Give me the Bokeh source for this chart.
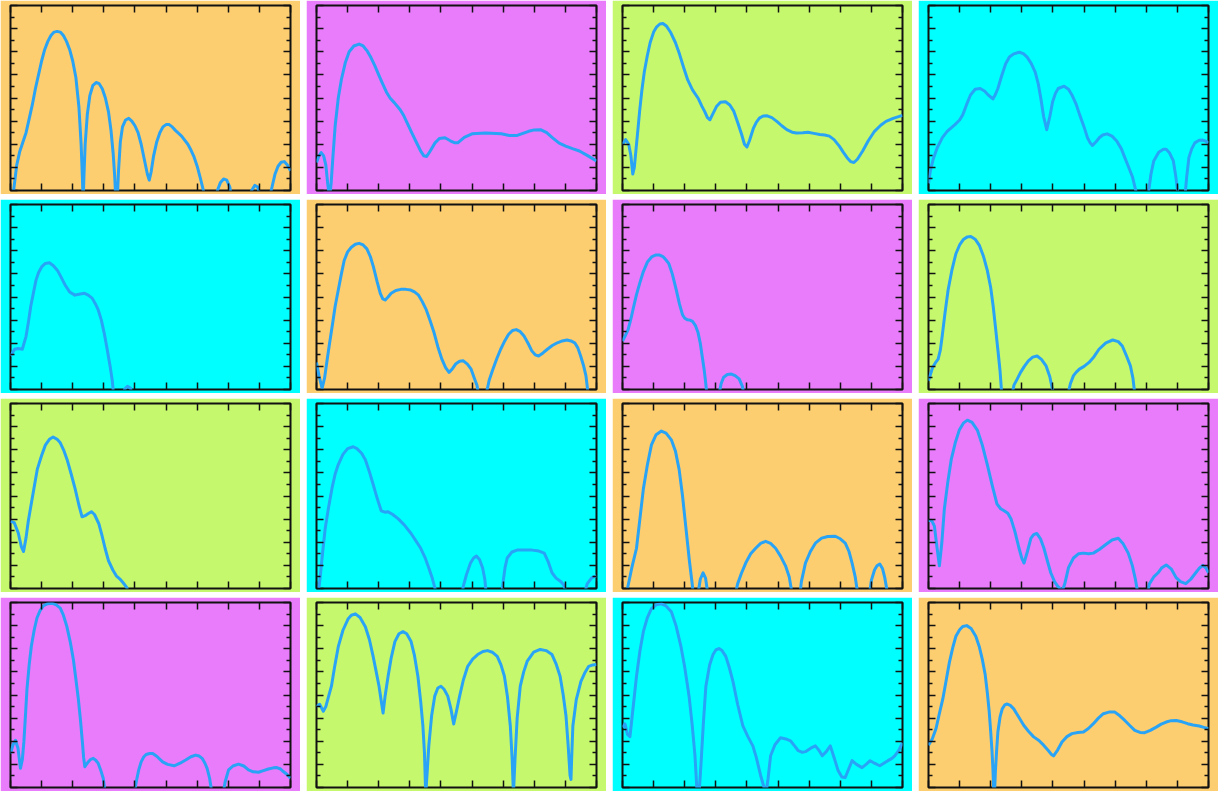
from bokeh.plotting import figure
from bokeh.layouts import gridplot
from bokeh.models import LinearAxis, FixedTicker
from bokeh.embed import file_html
from bokeh.resources import INLINE

# ---- panel colours (row by row) ----
ORANGE = "#FDCE70"
MAGENTA = "#E87CFB"
GREEN = "#C6F86E"
CYAN = "#00FFFF"
LINE = "#29A3F5"
INK = "#111111"

panel_colors = [ORANGE, MAGENTA, GREEN, CYAN,
                CYAN, ORANGE, MAGENTA, GREEN,
                GREEN, CYAN, ORANGE, MAGENTA,
                MAGENTA, GREEN, CYAN, ORANGE]

x_ticks = [0, 1, 2, 3, 4, 5, 6, 7, 8, 9]
y_ticks = [0, 1, 2, 3, 4, 5, 6, 7, 8]
y_minor = [0.5, 1.5, 2.5, 3.5, 4.5, 5.5, 6.5, 7.5]

# ---- curves: (x, y) pairs ----
P1 = [(0.05,-0.3),(0.1,0.0),(0.2,1.1),(0.3,1.7),(0.4,2.1),(0.5,2.5),(0.6,3.1),(0.7,3.7),(0.8,4.4),(0.9,5.0),(1.0,5.6),(1.1,6.1),(1.2,6.45),(1.3,6.7),(1.4,6.85),(1.5,6.88),(1.6,6.85),(1.7,6.7),(1.8,6.45),(1.9,6.1),(2.0,5.6),(2.1,4.9),(2.2,3.6),(2.27,2.0),(2.31,0.6),(2.335,-0.5),(2.36,0.6),(2.4,2.0),(2.47,3.3),(2.55,4.1),(2.65,4.55),(2.75,4.67),(2.85,4.62),(2.95,4.4),(3.05,4.0),(3.15,3.4),(3.23,2.6),(3.3,1.6),(3.35,0.6),(3.39,-0.5),(3.43,-0.5),(3.47,0.8),(3.53,2.1),(3.6,2.75),(3.7,3.05),(3.8,3.12),(3.9,3.0),(4.0,2.8),(4.1,2.5),(4.2,2.0),(4.3,1.35),(4.4,0.7),(4.46,0.45),(4.52,0.8),(4.6,1.5),(4.7,2.1),(4.8,2.5),(4.9,2.75),(5.0,2.85),(5.1,2.85),(5.2,2.75),(5.3,2.6),(5.5,2.35),(5.7,2.0),(5.8,1.75),(5.9,1.45),(6.0,1.05),(6.1,0.55),(6.2,0.0),(6.25,-0.5),(6.6,-0.5),(6.65,0.0),(6.75,0.35),(6.85,0.5),(6.95,0.45),(7.05,0.15),(7.1,-0.3),(7.7,-0.3),(7.75,0.0),(7.85,0.22),(7.95,0.15),(8.02,-0.3),(8.33,-0.3),(8.38,0.0),(8.5,0.7),(8.6,1.05),(8.7,1.22),(8.8,1.25),(8.9,1.1),(9.0,0.85)]
P2 = [(0.0,1.21),(0.08,1.5),(0.15,1.64),(0.23,1.5),(0.3,1.1),(0.36,0.3),(0.42,-0.3),(0.47,0.3),(0.52,1.3),(0.6,2.8),(0.7,4.0),(0.8,4.8),(0.93,5.55),(1.05,6.0),(1.2,6.25),(1.37,6.33),(1.5,6.25),(1.62,6.05),(1.75,5.75),(1.87,5.41),(2.0,5.0),(2.12,4.63),(2.25,4.25),(2.37,3.99),(2.5,3.8),(2.69,3.49),(2.8,3.25),(2.94,2.85),(3.06,2.5),(3.19,2.14),(3.35,1.7),(3.45,1.5),(3.54,1.47),(3.65,1.7),(3.81,2.06),(3.95,2.25),(4.13,2.28),(4.3,2.15),(4.45,2.06),(4.54,2.06),(4.75,2.3),(5.0,2.45),(5.44,2.49),(5.94,2.45),(6.2,2.38),(6.45,2.38),(6.82,2.56),(7.0,2.62),(7.2,2.63),(7.4,2.5),(7.57,2.3),(7.8,2.05),(8.01,1.92),(8.25,1.8),(8.45,1.71),(8.7,1.52),(9.0,1.28)]
P3 = [(0.0,1.99),(0.1,2.2),(0.2,2.0),(0.27,1.5),(0.33,0.71),(0.38,1.0),(0.43,1.71),(0.5,2.7),(0.55,3.42),(0.62,4.3),(0.7,5.12),(0.8,5.85),(0.89,6.4),(1.0,6.85),(1.1,7.08),(1.2,7.2),(1.3,7.22),(1.42,7.1),(1.55,6.83),(1.7,6.4),(1.83,5.91),(1.97,5.3),(2.1,4.77),(2.25,4.35),(2.43,3.99),(2.55,3.65),(2.64,3.42),(2.73,3.15),(2.81,3.06),(2.9,3.3),(3.02,3.63),(3.15,3.82),(3.31,3.84),(3.45,3.7),(3.58,3.42),(3.7,2.95),(3.83,2.42),(3.92,2.0),(4.0,1.88),(4.08,2.15),(4.21,2.7),(4.3,2.95),(4.4,3.13),(4.52,3.22),(4.65,3.23),(4.8,3.15),(4.96,2.99),(5.12,2.8),(5.28,2.63),(5.45,2.52),(5.59,2.49),(5.8,2.5),(5.96,2.52),(6.15,2.47),(6.34,2.42),(6.5,2.4),(6.65,2.35),(6.8,2.2),(6.97,1.92),(7.1,1.65),(7.22,1.42),(7.33,1.25),(7.44,1.21),(7.55,1.35),(7.72,1.71),(7.9,2.15),(8.1,2.56),(8.3,2.82),(8.47,2.99),(8.7,3.12),(9.0,3.25)]
P4 = [(0.0,0.3),(0.06,0.85),(0.15,1.35),(0.28,1.85),(0.45,2.3),(0.6,2.56),(0.85,2.85),(1.0,3.05),(1.1,3.27),(1.22,3.7),(1.35,4.13),(1.5,4.38),(1.66,4.41),(1.8,4.3),(1.92,4.13),(2.07,3.96),(2.15,4.15),(2.23,4.41),(2.35,4.95),(2.48,5.48),(2.6,5.77),(2.74,5.91),(2.92,5.98),(3.05,5.92),(3.17,5.77),(3.3,5.5),(3.43,5.12),(3.53,4.6),(3.61,3.99),(3.7,3.2),(3.8,2.63),(3.9,3.2),(3.99,3.84),(4.08,4.2),(4.17,4.41),(4.36,4.51),(4.5,4.38),(4.61,4.13),(4.74,3.75),(4.86,3.27),(5.0,2.75),(5.11,2.28),(5.2,2.05),(5.27,1.95),(5.38,2.1),(5.49,2.28),(5.6,2.4),(5.74,2.45),(5.9,2.35),(6.05,2.14),(6.2,1.8),(6.31,1.42),(6.45,0.95),(6.56,0.57),(6.68,-0.1),(6.75,-0.5),(7.0,-0.5),(7.08,0.0),(7.15,0.7),(7.24,1.28),(7.4,1.65),(7.55,1.78),(7.64,1.78),(7.75,1.62),(7.87,1.28),(7.95,0.6),(8.03,-0.3),(8.24,-0.3),(8.3,0.6),(8.37,1.42),(8.46,1.8),(8.56,2.06),(8.7,2.17),(8.81,2.18),(8.9,2.14),(9.0,2.06)]
P5 = [(0.0,1.45),(0.13,1.74),(0.25,1.77),(0.38,1.74),(0.5,2.3),(0.58,2.95),(0.65,3.59),(0.74,4.2),(0.82,4.73),(0.9,5.05),(1.0,5.3),(1.12,5.45),(1.25,5.48),(1.38,5.35),(1.51,5.15),(1.63,4.85),(1.76,4.51),(1.9,4.22),(2.07,4.08),(2.2,4.12),(2.38,4.16),(2.5,4.08),(2.63,3.94),(2.73,3.7),(2.82,3.44),(2.92,3.0),(3.01,2.45),(3.1,1.8),(3.2,1.02),(3.27,0.4),(3.32,-0.3),(3.62,-0.3),(3.66,0.0),(3.76,0.14),(3.86,0.05),(3.92,-0.3)]
P6 = [(0.0,1.17),(0.08,0.6),(0.18,0.05),(0.26,0.5),(0.33,1.17),(0.42,2.0),(0.52,2.88),(0.6,3.6),(0.7,4.3),(0.8,5.0),(0.89,5.58),(1.0,5.95),(1.12,6.15),(1.25,6.28),(1.37,6.32),(1.5,6.25),(1.62,6.08),(1.73,5.75),(1.83,5.3),(1.95,4.65),(2.05,4.16),(2.13,3.92),(2.21,3.87),(2.3,4.0),(2.4,4.16),(2.55,4.28),(2.71,4.33),(2.87,4.33),(3.03,4.3),(3.15,4.22),(3.28,4.08),(3.4,3.8),(3.53,3.44),(3.65,2.98),(3.78,2.45),(3.9,1.85),(4.03,1.31),(4.15,0.95),(4.26,0.74),(4.37,0.9),(4.47,1.1),(4.6,1.22),(4.72,1.24),(4.85,1.1),(4.97,0.88),(5.07,0.5),(5.16,0.17),(5.22,-0.3),(5.44,-0.3),(5.55,0.4),(5.67,0.88),(5.8,1.35),(5.92,1.74),(6.05,2.1),(6.17,2.38),(6.3,2.55),(6.42,2.59),(6.55,2.5),(6.67,2.31),(6.8,2.0),(6.92,1.67),(7.03,1.5),(7.14,1.45),(7.28,1.58),(7.42,1.74),(7.58,1.9),(7.74,2.02),(7.9,2.1),(8.05,2.14),(8.18,2.1),(8.3,2.02),(8.4,1.8),(8.49,1.45),(8.58,1.05),(8.66,0.6),(8.74,-0.3)]
P7 = [(0.0,2.09),(0.08,2.3),(0.18,2.59),(0.27,3.05),(0.36,3.59),(0.45,4.1),(0.55,4.58),(0.67,5.1),(0.8,5.51),(0.95,5.75),(1.08,5.82),(1.18,5.82),(1.3,5.75),(1.4,5.6),(1.49,5.44),(1.6,5.0),(1.73,4.3),(1.83,3.7),(1.93,3.23),(2.0,3.08),(2.08,3.02),(2.17,3.0),(2.25,2.95),(2.35,2.75),(2.43,2.45),(2.5,2.0),(2.56,1.45),(2.62,0.9),(2.66,0.46),(2.72,-0.3),(3.09,-0.3),(3.17,0.25),(3.25,0.53),(3.37,0.65),(3.5,0.67),(3.62,0.6),(3.75,0.46),(3.85,0.15),(3.92,-0.3)]
P8 = [(0.0,0.38),(0.13,0.95),(0.22,1.15),(0.31,1.31),(0.38,1.7),(0.44,2.3),(0.53,3.3),(0.63,4.3),(0.75,5.15),(0.88,5.87),(1.0,6.25),(1.13,6.5),(1.25,6.6),(1.36,6.62),(1.5,6.5),(1.64,6.22),(1.77,5.75),(1.89,5.15),(2.0,4.4),(2.08,3.59),(2.16,2.6),(2.24,1.59),(2.3,0.8),(2.36,-0.3),(2.67,-0.3),(2.75,0.2),(2.85,0.45),(2.96,0.74),(3.08,1.0),(3.21,1.24),(3.35,1.4),(3.49,1.45),(3.63,1.3),(3.78,1.02),(3.9,0.55),(4.03,-0.3),(4.47,-0.3),(4.56,0.25),(4.66,0.6),(4.75,0.75),(4.85,0.88),(5.0,1.0),(5.16,1.17),(5.32,1.42),(5.48,1.74),(5.7,2.02),(5.92,2.14),(6.1,2.07),(6.23,1.88),(6.35,1.5),(6.49,1.02),(6.57,0.5),(6.64,-0.3)]
P9 = [(0.0,2.9),(0.12,2.85),(0.25,2.4),(0.35,1.8),(0.42,1.6),(0.5,2.2),(0.57,2.9),(0.64,3.45),(0.75,4.3),(0.86,5.15),(1.0,5.75),(1.12,6.2),(1.25,6.45),(1.37,6.55),(1.5,6.45),(1.6,6.3),(1.72,5.95),(1.82,5.57),(1.95,4.95),(2.08,4.3),(2.2,3.6),(2.3,3.1),(2.4,3.15),(2.49,3.23),(2.6,3.32),(2.7,3.2),(2.84,2.8),(2.94,2.3),(3.04,1.74),(3.15,1.2),(3.29,0.8),(3.4,0.55),(3.51,0.42),(3.62,0.25),(3.74,0.04),(3.8,-0.3)]
P10 = [(0.05,-0.3),(0.12,0.5),(0.2,1.6),(0.28,2.6),(0.38,3.45),(0.5,4.35),(0.6,4.95),(0.7,5.36),(0.85,5.8),(1.0,6.05),(1.18,6.13),(1.3,6.05),(1.45,5.85),(1.57,5.57),(1.7,5.05),(1.82,4.51),(1.95,3.9),(2.08,3.36),(2.2,3.3),(2.3,3.32),(2.45,3.2),(2.62,3.02),(2.82,2.75),(3.04,2.38),(3.2,2.05),(3.35,1.74),(3.5,1.3),(3.61,0.89),(3.72,0.45),(3.83,-0.1),(3.87,-0.3),(4.67,-0.3),(4.72,0.1),(4.82,0.6),(4.95,1.1),(5.05,1.32),(5.14,1.4),(5.24,1.25),(5.34,0.89),(5.41,0.4),(5.46,-0.3),(5.95,-0.3),(6.0,0.3),(6.06,0.9),(6.13,1.32),(6.28,1.58),(6.45,1.66),(6.7,1.66),(6.93,1.66),(7.15,1.62),(7.32,1.53),(7.45,1.15),(7.57,0.68),(7.7,0.45),(7.85,0.3),(7.95,0.15),(8.05,-0.3),(8.6,-0.3),(8.7,0.2),(8.85,0.47),(9.0,0.55)]
P11 = [(0.1,-0.3),(0.16,0.0),(0.3,0.9),(0.45,1.74),(0.55,2.9),(0.67,4.3),(0.8,5.35),(0.93,6.21),(1.08,6.65),(1.25,6.81),(1.4,6.72),(1.57,6.43),(1.7,5.95),(1.82,5.15),(1.93,4.0),(2.04,2.6),(2.15,1.2),(2.24,0.2),(2.28,-0.3),(2.42,-0.3),(2.5,0.4),(2.59,0.68),(2.67,0.45),(2.75,-0.3),(3.62,-0.3),(3.7,0.2),(3.82,0.65),(3.96,1.1),(4.12,1.5),(4.28,1.74),(4.44,1.95),(4.6,2.04),(4.76,1.95),(4.92,1.74),(5.08,1.4),(5.24,0.98),(5.36,0.5),(5.46,-0.3),(5.7,-0.3),(5.75,0.3),(5.88,1.1),(6.04,1.6),(6.2,1.96),(6.4,2.18),(6.6,2.25),(6.84,2.26),(7.0,2.15),(7.16,1.96),(7.28,1.6),(7.38,1.1),(7.48,0.5),(7.57,-0.3),(7.93,-0.3),(8.0,0.35),(8.1,0.8),(8.18,0.98),(8.27,1.06),(8.36,0.85),(8.43,0.47),(8.53,-0.3)]
P12 = [(0.0,2.94),(0.1,2.95),(0.19,2.7),(0.27,1.8),(0.35,0.98),(0.43,2.0),(0.51,3.45),(0.62,4.6),(0.73,5.57),(0.86,6.3),(0.99,6.85),(1.12,7.15),(1.25,7.28),(1.4,7.18),(1.57,6.85),(1.73,6.2),(1.89,5.36),(2.05,4.45),(2.2,3.66),(2.32,3.45),(2.43,3.36),(2.55,3.25),(2.65,3.02),(2.78,2.45),(2.91,1.74),(3.0,1.3),(3.07,1.1),(3.18,1.6),(3.29,2.17),(3.38,2.33),(3.48,2.38),(3.6,2.15),(3.71,1.74),(3.82,1.2),(3.93,0.68),(4.05,0.3),(4.15,0.1),(4.3,-0.1),(4.38,0.2),(4.5,0.9),(4.66,1.32),(4.82,1.5),(4.98,1.53),(5.15,1.5),(5.3,1.53),(5.5,1.7),(5.7,1.9),(5.9,2.1),(6.1,2.17),(6.25,1.95),(6.42,1.53),(6.55,1.0),(6.65,0.4),(6.74,-0.3),(7.02,-0.3),(7.1,0.2),(7.24,0.5),(7.38,0.68),(7.5,0.9),(7.64,1.02),(7.8,0.85),(7.96,0.47),(8.1,0.3),(8.27,0.21),(8.43,0.4),(8.59,0.68),(8.72,0.9),(8.82,1.0),(8.92,0.88),(9.0,0.68)]
P13 = [(0.0,1.47),(0.08,1.85),(0.16,2.04),(0.24,1.7),(0.32,0.83),(0.38,1.2),(0.43,1.97),(0.48,3.1),(0.53,4.26),(0.6,5.3),(0.67,6.11),(0.76,6.8),(0.85,7.33),(0.95,7.65),(1.06,7.86),(1.2,7.95),(1.33,7.97),(1.47,7.9),(1.6,7.76),(1.7,7.45),(1.81,6.97),(1.92,6.3),(2.02,5.54),(2.1,4.7),(2.18,3.83),(2.25,2.9),(2.31,1.97),(2.35,1.3),(2.39,0.9),(2.44,1.0),(2.5,1.11),(2.58,1.22),(2.66,1.26),(2.74,1.18),(2.82,1.04),(2.9,0.75),(2.98,0.4),(3.05,-0.3),(3.97,-0.3),(4.05,0.3),(4.12,0.75),(4.2,1.11),(4.28,1.32),(4.36,1.43),(4.47,1.47),(4.57,1.47),(4.7,1.35),(4.89,1.11),(5.05,1.0),(5.26,0.94),(5.45,1.05),(5.63,1.19),(5.8,1.33),(5.95,1.4),(6.06,1.36),(6.16,1.26),(6.25,1.05),(6.32,0.83),(6.4,0.4),(6.48,-0.3),(6.83,-0.3),(6.9,0.25),(7.01,0.76),(7.15,0.93),(7.33,1.01),(7.5,0.93),(7.65,0.76),(7.8,0.68),(7.97,0.66),(8.13,0.73),(8.29,0.8),(8.45,0.85),(8.56,0.86),(8.68,0.8),(8.77,0.69),(8.9,0.55),(9.0,0.4)]
P14 = [(0.0,3.5),(0.1,3.6),(0.22,3.3),(0.3,3.5),(0.38,3.9),(0.48,4.38),(0.58,5.2),(0.7,6.09),(0.85,6.8),(1.02,7.3),(1.12,7.45),(1.25,7.51),(1.4,7.35),(1.57,6.95),(1.7,6.4),(1.82,5.67),(1.92,5.0),(2.01,4.38),(2.08,3.75),(2.14,3.22),(2.2,3.9),(2.3,4.8),(2.4,5.6),(2.52,6.31),(2.65,6.65),(2.78,6.74),(2.9,6.65),(3.04,6.31),(3.15,5.7),(3.26,4.8),(3.35,3.7),(3.42,2.66),(3.47,1.5),(3.51,-0.3),(3.55,0.5),(3.61,1.8),(3.7,3.1),(3.8,3.95),(3.9,4.3),(4.0,4.38),(4.1,4.25),(4.22,3.95),(4.32,3.4),(4.41,2.75),(4.5,3.3),(4.6,3.95),(4.72,4.65),(4.86,5.24),(5.02,5.55),(5.18,5.75),(5.35,5.88),(5.5,5.92),(5.65,5.85),(5.81,5.67),(5.93,5.3),(6.04,4.81),(6.14,3.9),(6.23,2.66),(6.29,1.2),(6.33,-0.3),(6.38,1.2),(6.45,3.0),(6.55,4.38),(6.66,5.0),(6.77,5.45),(6.98,5.85),(7.19,5.97),(7.38,5.92),(7.57,5.75),(7.7,5.35),(7.83,4.81),(7.93,4.0),(8.02,3.09),(8.09,1.8),(8.15,0.52),(8.18,0.35),(8.2,1.2),(8.24,2.66),(8.35,3.8),(8.5,4.59),(8.62,4.95),(8.75,5.24),(8.88,5.3),(9.0,5.32)]
P15 = [(0.0,2.6),(0.08,2.75),(0.16,2.3),(0.24,2.2),(0.32,3.2),(0.45,4.81),(0.56,5.9),(0.67,6.74),(0.8,7.35),(0.93,7.73),(1.08,7.9),(1.25,7.94),(1.4,7.85),(1.57,7.6),(1.72,7.0),(1.88,6.09),(2.0,5.2),(2.14,3.95),(2.24,2.7),(2.33,1.37),(2.4,-0.3),(2.46,-0.3),(2.52,0.94),(2.6,2.8),(2.68,4.38),(2.8,5.3),(2.91,5.75),(3.0,5.95),(3.1,6.01),(3.2,5.92),(3.32,5.67),(3.43,5.2),(3.55,4.59),(3.7,3.6),(3.87,2.66),(4.03,2.2),(4.19,1.8),(4.3,1.3),(4.44,0.52),(4.55,0.0),(4.62,-0.2),(4.68,0.4),(4.76,1.37),(4.9,1.85),(5.08,2.15),(5.25,2.1),(5.4,2.02),(5.53,1.8),(5.65,1.59),(5.78,1.52),(5.88,1.55),(6.05,1.7),(6.2,1.8),(6.32,1.6),(6.42,1.37),(6.55,1.55),(6.68,1.8),(6.8,1.3),(6.93,0.73),(7.05,0.45),(7.16,0.43),(7.27,0.8),(7.38,1.16),(7.52,1.0),(7.7,0.86),(7.83,1.0),(7.96,1.16),(8.1,1.05),(8.27,0.94),(8.4,1.05),(8.53,1.16),(8.65,1.25),(8.75,1.37),(8.88,1.6),(9.0,1.93)]
P16 = [(0.0,1.83),(0.12,2.1),(0.24,2.54),(0.35,3.2),(0.46,3.83),(0.57,4.65),(0.67,5.4),(0.78,6.05),(0.88,6.54),(1.0,6.82),(1.1,6.96),(1.23,7.0),(1.37,6.88),(1.52,6.54),(1.63,6.1),(1.73,5.54),(1.82,4.9),(1.89,4.11),(1.95,3.3),(2.0,2.4),(2.04,1.6),(2.07,0.83),(2.1,-0.3),(2.12,-0.3),(2.15,0.69),(2.19,1.6),(2.23,2.4),(2.3,3.05),(2.37,3.4),(2.45,3.57),(2.53,3.61),(2.63,3.55),(2.74,3.4),(2.9,3.05),(3.06,2.69),(3.22,2.42),(3.38,2.19),(3.55,2.03),(3.7,1.83),(3.85,1.6),(3.95,1.43),(4.02,1.37),(4.15,1.62),(4.29,1.97),(4.45,2.2),(4.61,2.33),(4.8,2.38),(4.98,2.4),(5.14,2.55),(5.3,2.76),(5.46,3.0),(5.62,3.19),(5.8,3.26),(5.99,3.26),(6.15,3.1),(6.31,2.9),(6.47,2.68),(6.63,2.47),(6.8,2.38),(6.95,2.37),(7.13,2.47),(7.32,2.61),(7.48,2.74),(7.64,2.83),(7.8,2.89),(7.96,2.9),(8.15,2.84),(8.33,2.76),(8.5,2.7),(8.7,2.66),(8.85,2.6),(9.0,2.54)]

curves = [P1, P2, P3, P4, P5, P6, P7, P8, P9, P10, P11, P12, P13, P14, P15, P16]

PANEL_W, PANEL_H = 300, 194


def make_axis(is_x):
    if is_x:
        ticker = FixedTicker(ticks=x_ticks, minor_ticks=[])
    else:
        ticker = FixedTicker(ticks=y_ticks, minor_ticks=y_minor)
    ax = LinearAxis(ticker=ticker)
    ax.major_label_text_font_size = "0px"
    ax.major_label_standoff = 0
    ax.axis_line_color = None
    ax.major_tick_in = 7
    ax.major_tick_out = 0
    ax.minor_tick_in = 4
    ax.minor_tick_out = 0
    ax.major_tick_line_color = INK
    ax.minor_tick_line_color = INK
    ax.major_tick_line_width = 1.5
    ax.minor_tick_line_width = 1.5
    return ax


figs = []
for color, pts in zip(panel_colors, curves):
    p = figure(width=PANEL_W, height=PANEL_H, x_range=(x_ticks[0], x_ticks[-1]),
               y_range=(y_ticks[0], y_ticks[-1]),
               x_axis_type=None, y_axis_type=None, tools="",
               toolbar_location=None, output_backend="svg",
               min_border_left=10, min_border_right=10,
               min_border_top=5, min_border_bottom=4)
    p.background_fill_color = color
    p.border_fill_color = color
    p.outline_line_color = INK
    p.outline_line_width = 2
    p.add_layout(make_axis(True), "below")
    p.add_layout(make_axis(True), "above")
    p.add_layout(make_axis(False), "left")
    p.add_layout(make_axis(False), "right")
    xs = [a for a, b in pts]
    ys = [b for a, b in pts]
    p.line(xs, ys, line_color=LINE, line_width=3, line_join="round")
    figs.append(p)

grid = gridplot(figs, ncols=4, toolbar_location=None)
grid.spacing = (5, 6)

open("out.html", "w").write(file_html(grid, INLINE))
